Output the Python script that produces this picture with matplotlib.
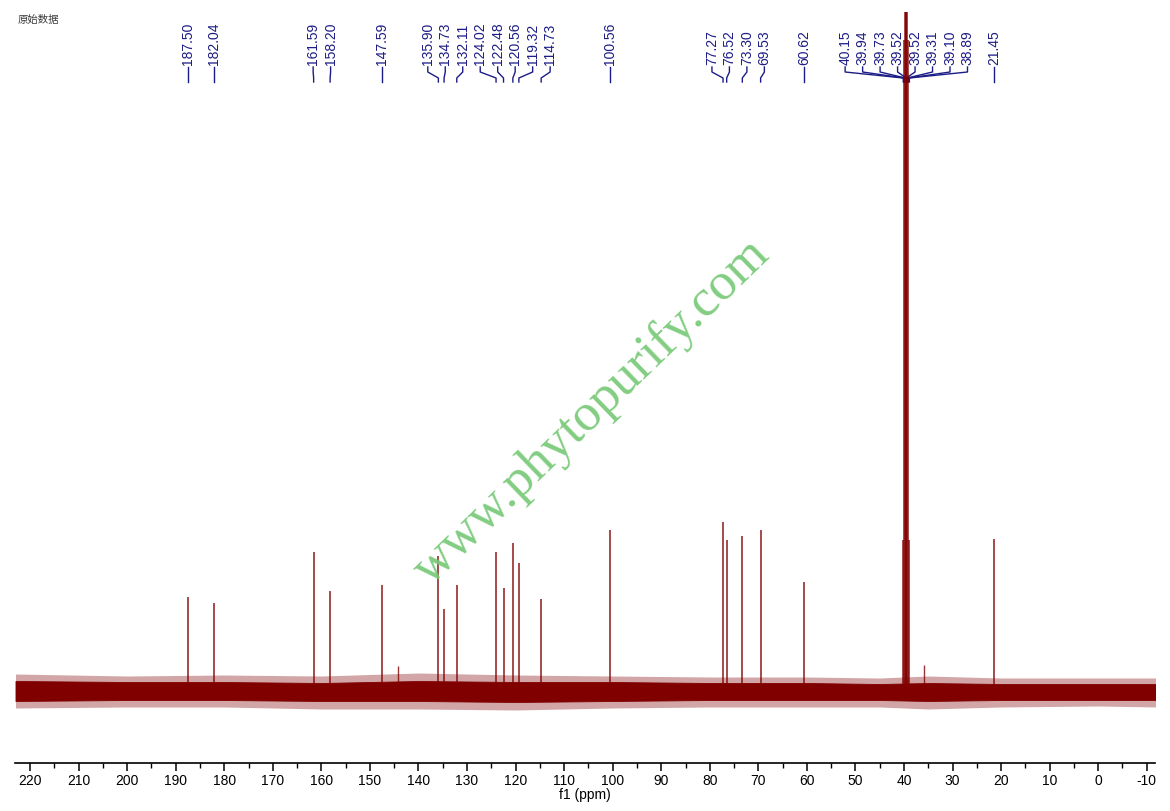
import matplotlib
matplotlib.use('Agg')  # no display in the sandbox
import matplotlib.pyplot as plt
from matplotlib.ticker import MultipleLocator
from matplotlib.transforms import blended_transform_factory

# --- data (intensity: arbitrary units, baseline = 0) ---
peak_ppm = [187.50, 182.04, 161.59, 158.20, 147.59, 135.90, 134.73, 132.11,
            124.02, 122.48, 120.56, 119.32, 114.73, 100.56, 77.27, 76.52,
            73.30, 69.53, 60.62, 40.15, 39.94, 39.73, 39.52, 39.52, 39.31,
            39.10, 38.89, 21.45]
peak_height = [93, 87, 138, 99, 105, 134, 81, 105,
               138, 102, 147, 127, 91, 160, 168, 150,
               154, 160, 108, 150, 650, 1400, 2000, 2000, 1400,
               650, 150, 151]

# small unlabelled bumps
minor_ppm = [144.2, 35.8]
minor_height = [24, 25]

# noise along the baseline: dense core and outer spike envelope
base_ppm = [223, 200, 180, 160, 140, 120, 100, 80, 60, 45, 35, 20, 0, -12]
core_hi = [9, 8, 8, 7, 9, 8, 8, 7, 7, 6, 7, 6, 6, 6]
core_lo = [-11, -10, -10, -11, -11, -12, -11, -10, -10, -10, -11, -10, -10, -10]
spike_hi = [16, 14, 15, 14, 17, 15, 14, 13, 13, 12, 14, 12, 12, 12]
spike_lo = [-18, -17, -17, -19, -19, -20, -18, -17, -17, -17, -19, -17, -16, -17]

RED = '#800000'
NAVY = '#1c1c86'
W, H = 1170, 811

plt.rcParams['font.family'] = ['Liberation Sans', 'Noto Sans CJK SC']
plt.rcParams['axes.unicode_minus'] = False

fig = plt.figure(figsize=(W / 100, H / 100), dpi=100)
ax = fig.add_axes([15 / W, 1 - 763 / H, (1155 - 15) / W, (763 - 12) / H])

# spectrum
ax.fill_between(base_ppm, spike_lo, spike_hi, color=RED, lw=0, alpha=0.35, zorder=3)
ax.fill_between(base_ppm, core_lo, core_hi, color=RED, lw=0.6, zorder=3)
ax.vlines(peak_ppm, 0, peak_height, color=RED, lw=1.1, alpha=0.9, zorder=3)
ax.vlines(minor_ppm, 0, minor_height, color=RED, lw=1.0, alpha=0.8, zorder=3)

ax.set_xlim(223.1, -11.7)
ax.set_ylim(-73, 678)

for s in ['left', 'right', 'top']:
    ax.spines[s].set_visible(False)
ax.spines['bottom'].set_linewidth(1.2)
ax.set_yticks([])
ax.xaxis.set_major_locator(MultipleLocator(10))
ax.xaxis.set_minor_locator(MultipleLocator(5))
ax.tick_params(axis='x', which='major', length=6, width=1.1, labelsize=10, pad=2)
ax.tick_params(axis='x', which='minor', length=3.5, width=1.0)
ax.set_xlabel('f1 (ppm)', fontsize=10, labelpad=0)


# --- peak labels spread apart, with leader lines ---
def spread(pos, gap):
    groups = [[p] for p in pos]

    def places(g):
        c = sum(g) / len(g)
        n = len(g)
        return [c + gap * ((n - 1) / 2 - k) for k in range(n)]

    merged = True
    while merged:
        merged = False
        for i in range(len(groups) - 1):
            if places(groups[i])[-1] - places(groups[i + 1])[0] < gap:
                groups[i] = groups[i] + groups.pop(i + 1)
                merged = True
                break
    out = []
    for g in groups:
        out += places(g)
    return out


label_x = spread(peak_ppm, 3.6)
trans = blended_transform_factory(ax.transData, fig.transFigure)


def fy(p):
    return 1 - p / H


for pk, lx in zip(peak_ppm, label_x):
    ax.text(lx, fy(65), f'{pk:.2f}', rotation=90, ha='center', va='bottom',
            fontsize=10, color=NAVY, transform=trans, clip_on=False, zorder=2)
    ax.plot([lx, lx, pk, pk], [fy(67), fy(72), fy(78), fy(82)], color=NAVY,
            lw=1.0, transform=trans, clip_on=False, zorder=2)

# header and watermark
fig.text(18 / W, fy(20), '原始数据', fontsize=7.5, color='#3a3a3a', va='center',
         family=['Noto Sans CJK SC', 'DejaVu Sans'])
fig.text(592 / W, fy(412), 'www.phytopurify.com', rotation=44, fontsize=38,
         family='Liberation Serif', color='#74c874', ha='center', va='center',
         rotation_mode='anchor', alpha=0.9, zorder=5)

fig.savefig('out.png', dpi=100)
